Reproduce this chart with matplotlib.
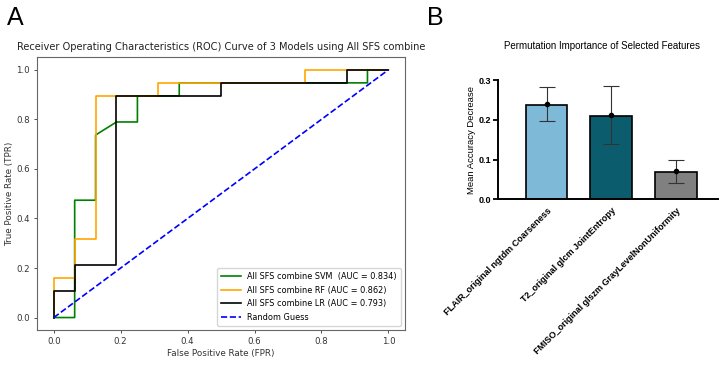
import numpy as np
import matplotlib
matplotlib.use("Agg")
import matplotlib.pyplot as plt

# ROC curves (16 negatives, 19 positives)
svm_fpr = [0, 1/16, 1/16, 2/16, 2/16, 3/16, 4/16, 4/16, 6/16, 6/16, 15/16, 15/16, 1]
svm_tpr = [0, 0, 9/19, 9/19, 14/19, 15/19, 15/19, 17/19, 17/19, 18/19, 18/19, 1, 1]
rf_fpr = [0, 0, 1/16, 1/16, 2/16, 2/16, 5/16, 5/16, 12/16, 12/16, 1]
rf_tpr = [0, 3/19, 3/19, 6/19, 6/19, 17/19, 17/19, 18/19, 18/19, 1, 1]
lr_fpr = [0, 0, 1/16, 1/16, 3/16, 3/16, 8/16, 8/16, 14/16, 14/16, 1]
lr_tpr = [0, 2/19, 2/19, 4/19, 4/19, 17/19, 17/19, 18/19, 18/19, 1, 1]
auc_svm, auc_rf, auc_lr = 0.834, 0.862, 0.793

# permutation importance
features = ["FLAIR_original ngtdm Coarseness",
            "T2_original glcm JointEntropy",
            "FMISO_original glszm GrayLevelNonUniformity"]
bar_means = [0.237, 0.210, 0.068]
dot_means = [0.239, 0.212, 0.070]
err = [0.043, 0.072, 0.029]
bar_colors = ["#7fb9d8", "#0b5d6e", "#808080"]

fig = plt.figure(figsize=(7.26, 3.67), dpi=100)

# --- A: ROC ---
ax = fig.add_axes([0.051, 0.101, 0.507, 0.7445])
ax.plot(svm_fpr, svm_tpr, color="green", lw=1.2, label=f"All SFS combine SVM  (AUC = {auc_svm:.3f})")
ax.plot(rf_fpr, rf_tpr, color="orange", lw=1.2, label=f"All SFS combine RF (AUC = {auc_rf:.3f})")
ax.plot(lr_fpr, lr_tpr, color="black", lw=1.2, label=f"All SFS combine LR (AUC = {auc_lr:.3f})")
ax.plot([0, 1], [0, 1], color="blue", ls="--", lw=1.2, label="Random Guess")
ax.set_xlim(-0.05, 1.05)
ax.set_ylim(-0.05, 1.053)
ax.set_xticks([0, 0.2, 0.4, 0.6, 0.8, 1.0])
ax.set_yticks([0, 0.2, 0.4, 0.6, 0.8, 1.0])
ax.tick_params(labelsize=6.2, length=2.5, width=0.6, colors="#333333", pad=2.5)
for s in ax.spines.values():
    s.set_color("#666666")
    s.set_linewidth(0.8)
ax.set_xlabel("False Positive Rate (FPR)", fontsize=6.3, color="#333333", labelpad=2)
ax.set_ylabel("True Positive Rate (TPR)", fontsize=6.3, color="#333333", labelpad=2)
ax.set_title("Receiver Operating Characteristics (ROC) Curve of 3 Models using All SFS combine",
             fontsize=7.1, color="#222222", pad=5)
ax.legend(loc="lower right", fontsize=5.9, handlelength=2.4, borderpad=0.5, labelspacing=0.55)

# --- B: permutation importance ---
bx = fig.add_axes([0.6864, 0.457, 0.3026, 0.325])
x = np.arange(len(features))
bx.bar(x, bar_means, width=0.645, color=bar_colors, edgecolor="black", linewidth=1.2, zorder=2)
bx.errorbar(x, dot_means, yerr=err, fmt="o", color="black", ms=3,
            ecolor="#333333", elinewidth=0.8, capsize=6, capthick=0.8, zorder=3)
bx.set_xlim(-0.745, 2.65)
bx.set_ylim(0, 0.3)
bx.set_yticks([0, 0.1, 0.2, 0.3])
bx.set_yticklabels(["0.0", "0.1", "0.2", "0.3"], fontsize=6.5, fontweight="bold", family="Liberation Sans")
bx.set_xticks(x)
bx.set_xticklabels(features, rotation=45, ha="right", rotation_mode="anchor",
                   fontsize=6.5, fontweight="bold", family="Liberation Sans")
bx.tick_params(axis="x", length=0, pad=5)
bx.tick_params(axis="y", length=3.5, width=1.3, pad=1.5)
for side in ["top", "right"]:
    bx.spines[side].set_visible(False)
for side in ["left", "bottom"]:
    bx.spines[side].set_linewidth(1.4)
bx.set_ylabel("Mean Accuracy Decrease", fontsize=6.8, family="Liberation Sans", labelpad=2)
bx.set_title("Permutation Importance of Selected Features", fontsize=7, family="Liberation Sans",
             pad=22, x=0.47)

fig.text(0.0207, 0.952, "A", fontsize=18, family="Liberation Sans", va="center", ha="center")
fig.text(0.600, 0.952, "B", fontsize=18, family="Liberation Sans", va="center", ha="center")

fig.savefig("out.png", dpi=100)
